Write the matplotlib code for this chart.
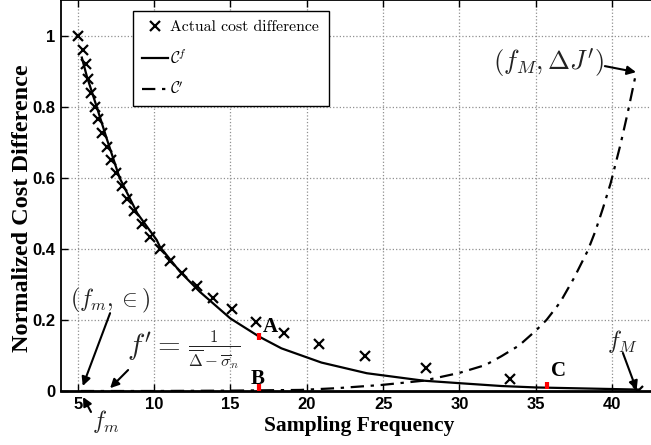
import matplotlib
matplotlib.use("Agg")
import matplotlib.pyplot as plt

plt.rcParams["mathtext.fontset"] = "cm"

# Actual normalized cost difference at each sampling frequency
actual_freq = [5.0, 5.33, 5.52, 5.7, 5.87, 6.13, 6.35, 6.61, 6.89, 7.17, 7.52,
               7.87, 8.22, 8.7, 9.18, 9.73, 10.39, 11.07, 11.84, 12.78, 13.83,
               15.1, 16.65, 18.5, 20.82, 23.8, 27.79, 33.32, 41.67]
actual_cost = [1.0, 0.959, 0.92, 0.878, 0.839, 0.80, 0.765, 0.727, 0.687, 0.65,
               0.612, 0.578, 0.539, 0.505, 0.47, 0.434, 0.40, 0.366, 0.331,
               0.296, 0.262, 0.23, 0.195, 0.162, 0.131, 0.098, 0.066, 0.033, 0.0]

# Model curve C^f
cf_freq = [5.27, 5.6, 6.24, 6.9, 7.74, 8.9, 10.17, 10.38, 11.69, 13.0, 15.0,
           16.88, 18.34, 20.96, 23.93, 27.65, 30.0, 32.75, 35.0, 41.7]
cf_cost = [0.938, 0.885, 0.80, 0.71, 0.60, 0.50, 0.425, 0.406, 0.336, 0.279,
           0.204, 0.153, 0.12, 0.08, 0.05, 0.029, 0.022, 0.014, 0.01, 0.004]

# Model curve C'
cp_freq = [5.2, 10.0, 15.0, 19.6, 22.0, 24.9, 27.65, 30.0, 31.7, 32.75, 33.9,
           35.0, 35.7, 36.6, 37.5, 38.4, 38.9, 39.4, 39.9, 40.55, 41.0, 41.54]
cp_cost = [0.0, 0.0, 0.001, 0.003, 0.008, 0.017, 0.029, 0.051, 0.073, 0.098,
           0.128, 0.17, 0.2, 0.25, 0.318, 0.395, 0.45, 0.515, 0.585, 0.695,
           0.78, 0.89]

# Highlighted operating points A, B, C
mark_freq = [16.88, 16.88, 35.7]
mark_low = [0.143, 0.0, 0.005]
mark_high = [0.163, 0.02, 0.025]
mark_names = ["A", "B", "C"]

x_ticks = [5, 10, 15, 20, 25, 30, 35, 40]
y_ticks = [0, 0.2, 0.4, 0.6, 0.8, 1.0]
y_ticklabels = ["0", "0.2", "0.4", "0.6", "0.8", "1"]

fig = plt.figure(figsize=(6.51, 4.45), dpi=100)
ax = fig.add_axes([61 / 651, 54 / 445, 590 / 651, 391 / 445])

ax.plot(actual_freq, actual_cost, linestyle="none", marker="x", color="black",
        markersize=6.5, markeredgewidth=1.6, label="Actual cost difference", zorder=4)
ax.plot(cf_freq, cf_cost, color="black", lw=1.6, label=r"$\mathcal{C}^f$", zorder=3)
ax.plot(cp_freq, cp_cost, color="black", lw=1.6, linestyle=(0, (6, 3, 1.5, 3)),
        label=r"$\mathcal{C}'$", zorder=3)

for fx, lo, hi in zip(mark_freq, mark_low, mark_high):
    ax.plot([fx, fx], [lo, hi], color="red", lw=3, solid_capstyle="butt", zorder=5)

bold_serif = dict(family="Liberation Serif", fontweight="bold", fontsize=15)
ax.text(17.6, 0.18, mark_names[0], ha="center", va="center", **bold_serif)
ax.text(16.75, 0.035, mark_names[1], ha="center", va="center", **bold_serif)
ax.text(36.5, 0.055, mark_names[2], ha="center", va="center", **bold_serif)

ax.set_xlim(3.906, 42.54)
ax.set_ylim(0, 1.1)
ax.set_xticks(x_ticks)
ax.set_yticks(y_ticks)
ax.set_yticklabels(y_ticklabels)
for lab in ax.get_xticklabels() + ax.get_yticklabels():
    lab.set_family("Liberation Sans")
    lab.set_fontweight("bold")
    lab.set_fontsize(12)
ax.tick_params(direction="in", top=True, right=False, length=5, width=1, pad=4)
ax.spines["right"].set_visible(False)
ax.spines["bottom"].set_linewidth(2)
ax.spines["left"].set_linewidth(1.3)
ax.spines["top"].set_linewidth(1.3)
ax.grid(True, linestyle=":", color="#909090", lw=0.9)
ax.set_axisbelow(True)

ax.set_xlabel("Sampling Frequency", family="Liberation Serif", fontweight="bold",
              fontsize=15.5)
ax.xaxis.set_label_coords(0.505, -0.064)
ax.xaxis.label.set_verticalalignment("top")
ax.set_ylabel("Normalized Cost Difference", family="Liberation Serif",
              fontweight="bold", fontsize=17.5)
ax.yaxis.set_label_coords(-0.047, 0.468)

leg = ax.legend(loc="upper left", bbox_to_anchor=(0.1215, 0.9726), borderaxespad=0,
                fancybox=False, framealpha=1, edgecolor="black",
                handlelength=1.65, handletextpad=0.15, labelspacing=0.88,
                borderpad=0.6, prop={"family": "cmr10", "size": 11.3})
leg.get_frame().set_linewidth(1.0)

arrow = dict(arrowstyle="-|>", color="black", lw=1.5, mutation_scale=13,
             shrinkA=0, shrinkB=0)
txt_color = "#222222"

ax.annotate("", xy=(41.56, 0.897), xytext=(39.52, 0.914), arrowprops=arrow)
ax.text(35.8, 0.923, r"$(f_M,\Delta J')$", ha="center", va="center",
        fontsize=19, color=txt_color)

ax.annotate("", xy=(5.33, 0.014), xytext=(7.12, 0.219), arrowprops=arrow)
ax.text(7.12, 0.256, r"$(f_m,\in)$", ha="center", va="center",
        fontsize=17, color=txt_color)

ax.annotate("", xy=(7.12, 0.008), xytext=(8.3, 0.059), arrowprops=arrow)
ax.text(11.75, 0.125, r"$f' =$", ha="right", va="center", fontsize=21,
        color=txt_color)
ax.text(12.2, 0.118, r"$\frac{1}{\overline{\Delta}-\overline{\sigma}_n}$",
        ha="left", va="center", fontsize=17, color=txt_color)

ax.annotate("", xy=(5.35, -0.017), xytext=(5.87, -0.059), arrowprops=arrow,
            annotation_clip=False)
ax.text(6.85, -0.087, r"$f_m$", ha="center", va="center", fontsize=17,
        color=txt_color, clip_on=False)

ax.annotate("", xy=(41.6, 0.003), xytext=(40.7, 0.107), arrowprops=arrow)
ax.text(40.65, 0.138, r"$f_M$", ha="center", va="center", fontsize=17,
        color=txt_color)

fig.savefig("out.png", dpi=100)
